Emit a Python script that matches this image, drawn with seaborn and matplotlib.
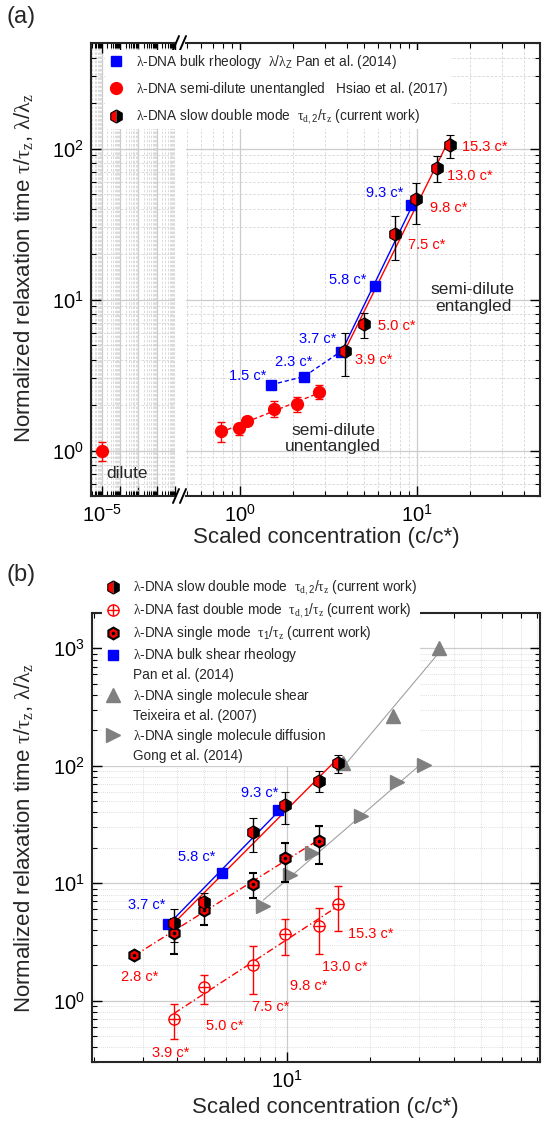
import numpy as np
import matplotlib
matplotlib.use("Agg")
import matplotlib.pyplot as plt
import seaborn as sns
from matplotlib.lines import Line2D
from matplotlib.legend_handler import HandlerTuple
from matplotlib.ticker import LogLocator, FuncFormatter, NullFormatter

# ---- data ----
# bulk rheology, Pan et al. (2014)
pan_c = [1.5, 2.3, 3.7, 5.8, 9.3]
pan_tau = [2.73, 3.09, 4.52, 12.3, 42.0]

# semi-dilute unentangled, Hsiao et al. (2017)
dilute_c = [1e-5]
dilute_tau = [1.0]
dilute_lo = [0.85]
dilute_hi = [1.14]
hsiao_c = [0.78, 0.98, 1.09, 1.56, 2.1, 2.8]
hsiao_tau = [1.34, 1.41, 1.58, 1.89, 2.03, 2.44]
hsiao_lo = [1.14, 1.26, 1.48, 1.66, 1.80, 2.18]
hsiao_hi = [1.55, 1.50, 1.66, 2.14, 2.25, 2.70]

# slow double mode (current work)
slow_c = [3.9, 5.0, 7.5, 9.8, 13.0, 15.3]
slow_tau = [4.55, 6.9, 27.1, 46.0, 74.5, 105.0]
slow_lo = [3.14, 5.54, 18.4, 31.8, 60.3, 87.0]
slow_hi = [5.98, 8.19, 35.8, 59.3, 89.6, 123.6]

# fast double mode (current work)
fast_c = [3.9, 5.0, 7.5, 9.8, 13.0, 15.3]
fast_tau = [0.70, 1.30, 2.02, 3.69, 4.28, 6.67]
fast_lo = [0.47, 0.94, 1.14, 2.46, 2.49, 3.93]
fast_hi = [0.94, 1.65, 2.89, 4.95, 6.13, 9.52]

# single mode (current work)
single_c = [2.8, 3.9, 5.0, 7.5, 9.8, 13.0]
single_tau = [2.46, 3.76, 5.93, 9.86, 16.3, 23.0]
single_lo = [2.40, 2.51, 4.43, 7.46, 10.3, 14.5]
single_hi = [2.52, 5.0, 7.5, 12.3, 22.2, 30.9]

# single molecule shear, Teixeira et al. (2007)
teix_c = [15.9, 24.2, 35.3]
teix_tau = [105.0, 266.0, 1000.0]

# single molecule diffusion, Gong et al. (2014)
gong_c = [8.2, 10.25, 12.3, 18.5, 24.9, 31.2]
gong_tau = [6.45, 11.8, 18.0, 37.3, 72.1, 101.0]

# label offsets (pixels) for the c* annotations
a_slow_off = [(29, -9), (33, -2), (32, -11), (33, -9), (33, -8), (35, -2)]
a_pan_off = [(-24, 9), (-10, 15), (-23, 13), (-27, 6), (-27, 12)]
b_fast_off = [(-3, -34), (21, -39), (18, -42), (24, -52), (26, -41), (32, -30)]
b_pan_off = [(-21, 19), (-25, 16), (-19, 17)]

RED = "#ff0000"
BLUE = "#0000ff"
GREY = "#808080"
ANN = 10.5

sns.set_style("ticks")
plt.rcParams["font.family"] = ["Liberation Sans", "DejaVu Sans"]
plt.rcParams["mathtext.fontset"] = "custom"
plt.rcParams["mathtext.rm"] = "Liberation Sans"
plt.rcParams["mathtext.it"] = "Liberation Serif"
plt.rcParams["mathtext.bf"] = "Liberation Sans:bold"

W, H = 542, 1123
fig = plt.figure(figsize=(W / 100, H / 100), dpi=100)


def box(x0, y0, x1, y1):
    return [x0 / W, 1 - y1 / H, (x1 - x0) / W, (y1 - y0) / H]


ax_d = fig.add_axes(box(91, 43, 175, 496))
ax_a = fig.add_axes(box(186, 43, 540, 496))
ax_b = fig.add_axes(box(92, 613, 540, 1062))


def style(ax, minor_ls):
    ax.set_xscale("log")
    ax.set_yscale("log")
    ax.set_axisbelow(True)
    ax.grid(True, which="major", color="#cccccc", lw=0.9, ls="-")
    ax.grid(True, which="minor", color="#d4d4d4", lw=0.6, ls=minor_ls)
    ax.tick_params(which="both", direction="in", top=True, right=True,
                   labelsize=14.5, colors="black")
    ax.tick_params(which="major", length=7, width=1)
    ax.tick_params(which="minor", length=3.5, width=0.8)
    ax.xaxis.set_minor_locator(LogLocator(base=10, subs=np.arange(2, 10), numticks=100))
    ax.yaxis.set_minor_locator(LogLocator(base=10, subs=np.arange(2, 10), numticks=100))
    ax.xaxis.set_major_locator(LogLocator(base=10, numticks=100))
    for s in ax.spines.values():
        s.set_linewidth(1.5)


def fit_line(ax, c, t, color, ls, lw=1.0):
    p = np.polyfit(np.log10(c), np.log10(t), 1)
    xs = np.array([min(c), max(c)])
    ys = 10 ** np.polyval(p, np.log10(xs))
    sns.lineplot(x=xs, y=ys, ax=ax, color=color, linestyle=ls, lw=lw, zorder=4.5)


def err(ax, c, t, lo, hi, ecolor, **kw):
    t = np.array(t)
    yerr = [t - np.array(lo), np.array(hi) - t]
    ax.errorbar(c, t, yerr=yerr, ls="none", ecolor=ecolor, elinewidth=1,
                capsize=3, capthick=1, **kw)


slow_kw = dict(marker="h", ms=9.5, fillstyle="left", mfc=RED, mfcalt="black",
               mec="black", mew=0.8)
single_kw = dict(marker="h", ms=8.5, mfc=RED, mec="black", mew=1.5)

# ================= panel (a) =================
for ax in (ax_d, ax_a):
    style(ax, (0, (3, 2)))
    ax.set_ylim(0.5, 500)

ax_d.set_xlim(10 ** -5.6, 10 ** -1)
ax_a.set_xlim(0.495, 49.5)
ax_d.xaxis.set_major_formatter(FuncFormatter(
    lambda v, p: r"$\mathdefault{10^{-5}}$" if abs(np.log10(v) + 5) < 1e-6 else ""))
ax_d.spines["right"].set_visible(False)
ax_d.tick_params(which="both", right=False)
ax_a.spines["left"].set_visible(False)
ax_a.tick_params(which="both", left=False, labelleft=False)
ax_a.yaxis.set_minor_formatter(NullFormatter())
ax_d.tick_params(axis="y", pad=5)
ax_d.tick_params(axis="x", pad=6)
ax_a.tick_params(axis="x", pad=6)

# dilute point
err(ax_d, dilute_c, dilute_tau, dilute_lo, dilute_hi, RED,
    marker="o", ms=8.5, color=RED, mec=RED)
ax_d.text(2.3e-4, 0.71, "dilute", fontsize=12.5, ha="center", va="center")

# lines
sns.lineplot(x=pan_c[:3], y=pan_tau[:3], ax=ax_a, color=BLUE, linestyle=(0, (3, 2)), lw=1)
fit_line(ax_a, pan_c[2:], pan_tau[2:], BLUE, "-")
fit_line(ax_a, hsiao_c, hsiao_tau, RED, (0, (3, 2)))
fit_line(ax_a, slow_c, slow_tau, RED, "-")

ax_a.plot(pan_c, pan_tau, ls="none", marker="s", ms=6.5, color=BLUE, zorder=5)
err(ax_a, hsiao_c, hsiao_tau, hsiao_lo, hsiao_hi, RED,
    marker="o", ms=8.5, color=RED, mec=RED, zorder=5)
err(ax_a, slow_c, slow_tau, slow_lo, slow_hi, "black", zorder=6, **slow_kw)

for c, t, off in zip(slow_c, slow_tau, a_slow_off):
    ax_a.annotate(f"{c:.1f} c*", xy=(c, t), xytext=off, textcoords="offset pixels",
                  ha="center", va="center", color=RED, fontsize=ANN)
for c, t, off in zip(pan_c, pan_tau, a_pan_off):
    ax_a.annotate(f"{c:.1f} c*", xy=(c, t), xytext=off, textcoords="offset pixels",
                  ha="center", va="center", color=BLUE, fontsize=ANN)

ax_a.text(20.7, 10.3, "semi-dilute\nentangled", fontsize=12.5, ha="center",
          va="center", linespacing=1.15)
ax_a.text(3.35, 1.2, "semi-dilute\nunentangled", fontsize=12.5, ha="center",
          va="center", linespacing=1.15)

# axis break marks
for yy in (43, 496):
    for xx in (176, 183):
        fig.add_artist(Line2D([(xx - 3) / W, (xx + 3) / W],
                              [1 - (yy + 7) / H, 1 - (yy - 7) / H],
                              color="black", lw=1.4))

fig.text(21 / W, 1 - 17 / H, "(a)", fontsize=17, ha="center", va="center")
ylab = r"Normalized relaxation time $\tau/\tau_z$, $\lambda/\lambda_z$"
fig.text(24 / W, 1 - 268 / H, ylab, fontsize=16, rotation=90, ha="center", va="center")
fig.text(326 / W, 1 - 538 / H, "Scaled concentration (c/c*)", fontsize=16,
         ha="center", va="center")

h_pan = Line2D([], [], ls="none", marker="s", ms=6.5, color=BLUE)
h_hsiao = Line2D([], [], ls="none", marker="o", ms=8.5, color=RED)
h_slow = Line2D([], [], ls="none", **slow_kw)
fig.legend([h_pan, h_hsiao, h_slow],
           [r"$\lambda$-DNA bulk rheology  $\lambda/\lambda_\mathrm{Z}$ Pan et al. (2014)",
            r"$\lambda$-DNA semi-dilute unentangled   Hsiao et al. (2017)",
            r"$\lambda$-DNA slow double mode  $\tau_{d,2}/\tau_z$ (current work)"],
           loc="upper left", bbox_to_anchor=(105 / W, 1 - 50 / H),
           frameon=True, facecolor="white", edgecolor="none", framealpha=1,
           fontsize=9.8, handlelength=1.2, handletextpad=0.9, labelspacing=0.7,
           borderpad=0.2, borderaxespad=0)

# ================= panel (b) =================
style(ax_b, (0, (1, 1.5)))
ax_b.set_xlim(1.97, 82)
ax_b.set_ylim(0.3, 2000)
ax_b.xaxis.set_minor_formatter(NullFormatter())
ax_b.yaxis.set_minor_formatter(NullFormatter())
ax_b.tick_params(axis="y", pad=5)
ax_b.tick_params(axis="x", pad=6)

fit_line(ax_b, teix_c, teix_tau, "#a0a0a0", "-", lw=0.8)
fit_line(ax_b, gong_c, gong_tau, "#a0a0a0", "-", lw=0.8)
fit_line(ax_b, pan_c[2:], pan_tau[2:], BLUE, "-")
fit_line(ax_b, slow_c, slow_tau, RED, "-")
fit_line(ax_b, single_c, single_tau, RED, (0, (5, 2, 1, 2)))
fit_line(ax_b, fast_c, fast_tau, RED, (0, (5, 2, 1, 2)))

ax_b.plot(teix_c, teix_tau, ls="none", marker="^", ms=10, color=GREY, zorder=5)
ax_b.plot(gong_c, gong_tau, ls="none", marker=">", ms=10, color=GREY, zorder=5)
ax_b.plot(pan_c[2:], pan_tau[2:], ls="none", marker="s", ms=6.5, color=BLUE, zorder=5.5)
err(ax_b, single_c, single_tau, single_lo, single_hi, "black", zorder=6, **single_kw)
ax_b.plot(single_c, single_tau, ls="none", marker="o", ms=1.6, color="black", zorder=7)
err(ax_b, slow_c, slow_tau, slow_lo, slow_hi, "black", zorder=6, **slow_kw)
err(ax_b, fast_c, fast_tau, fast_lo, fast_hi, RED, zorder=6,
    marker="o", ms=8, mfc="white", mec=RED, mew=1)
ax_b.plot(fast_c, fast_tau, ls="none", marker="+", ms=8, mew=1, color=RED, zorder=7)

ax_b.annotate(f"{single_c[0]:.1f} c*", xy=(single_c[0], single_tau[0]), xytext=(5, -22),
              textcoords="offset pixels", ha="center", va="center", color=RED, fontsize=ANN)
for c, t, off in zip(fast_c, fast_tau, b_fast_off):
    ax_b.annotate(f"{c:.1f} c*", xy=(c, t), xytext=off, textcoords="offset pixels",
                  ha="center", va="center", color=RED, fontsize=ANN)
for c, t, off in zip(pan_c[2:], pan_tau[2:], b_pan_off):
    ax_b.annotate(f"{c:.1f} c*", xy=(c, t), xytext=off, textcoords="offset pixels",
                  ha="center", va="center", color=BLUE, fontsize=ANN)

fig.text(21 / W, 1 - 575 / H, "(b)", fontsize=17, ha="center", va="center")
fig.text(24 / W, 1 - 838 / H, ylab, fontsize=16, rotation=90, ha="center", va="center")
fig.text(325 / W, 1 - 1108 / H, "Scaled concentration (c/c*)", fontsize=16,
         ha="center", va="center")

h_fast = (Line2D([], [], ls="none", marker="o", ms=8, mfc="white", mec=RED, mew=1),
          Line2D([], [], ls="none", marker="+", ms=8, mew=1, color=RED))
h_single = (Line2D([], [], ls="none", **single_kw),
            Line2D([], [], ls="none", marker="o", ms=1.6, color="black"))
h_teix = Line2D([], [], ls="none", marker="^", ms=10, color=GREY)
h_gong = Line2D([], [], ls="none", marker=">", ms=10, color=GREY)
h_blank = Line2D([], [], ls="none")
leg = ax_b.legend([h_slow, h_fast, h_single, h_pan, h_blank, h_teix, h_blank, h_gong, h_blank],
                  [r"$\lambda$-DNA slow double mode  $\tau_{d,2}/\tau_z$ (current work)",
                   r"$\lambda$-DNA fast double mode  $\tau_{d,1}/\tau_z$ (current work)",
                   r"$\lambda$-DNA single mode  $\tau_1/\tau_z$ (current work)",
                   r"$\lambda$-DNA bulk shear rheology", "Pan et al. (2014)",
                   r"$\lambda$-DNA single molecule shear", "Teixeira et al. (2007)",
                   r"$\lambda$-DNA single molecule diffusion", "Gong et al. (2014)"],
                  loc="upper left", bbox_to_anchor=(102 / W, 1 - 576 / H),
                  bbox_transform=fig.transFigure,
                  handler_map={tuple: HandlerTuple(ndivide=1, pad=0)},
                  frameon=True, facecolor="white", edgecolor="none", framealpha=1,
                  fontsize=9.8, handlelength=1.2, handletextpad=0.9, labelspacing=0.3,
                  borderpad=0.2, borderaxespad=0)
leg.set_zorder(4)

fig.savefig("out.png", dpi=100)
